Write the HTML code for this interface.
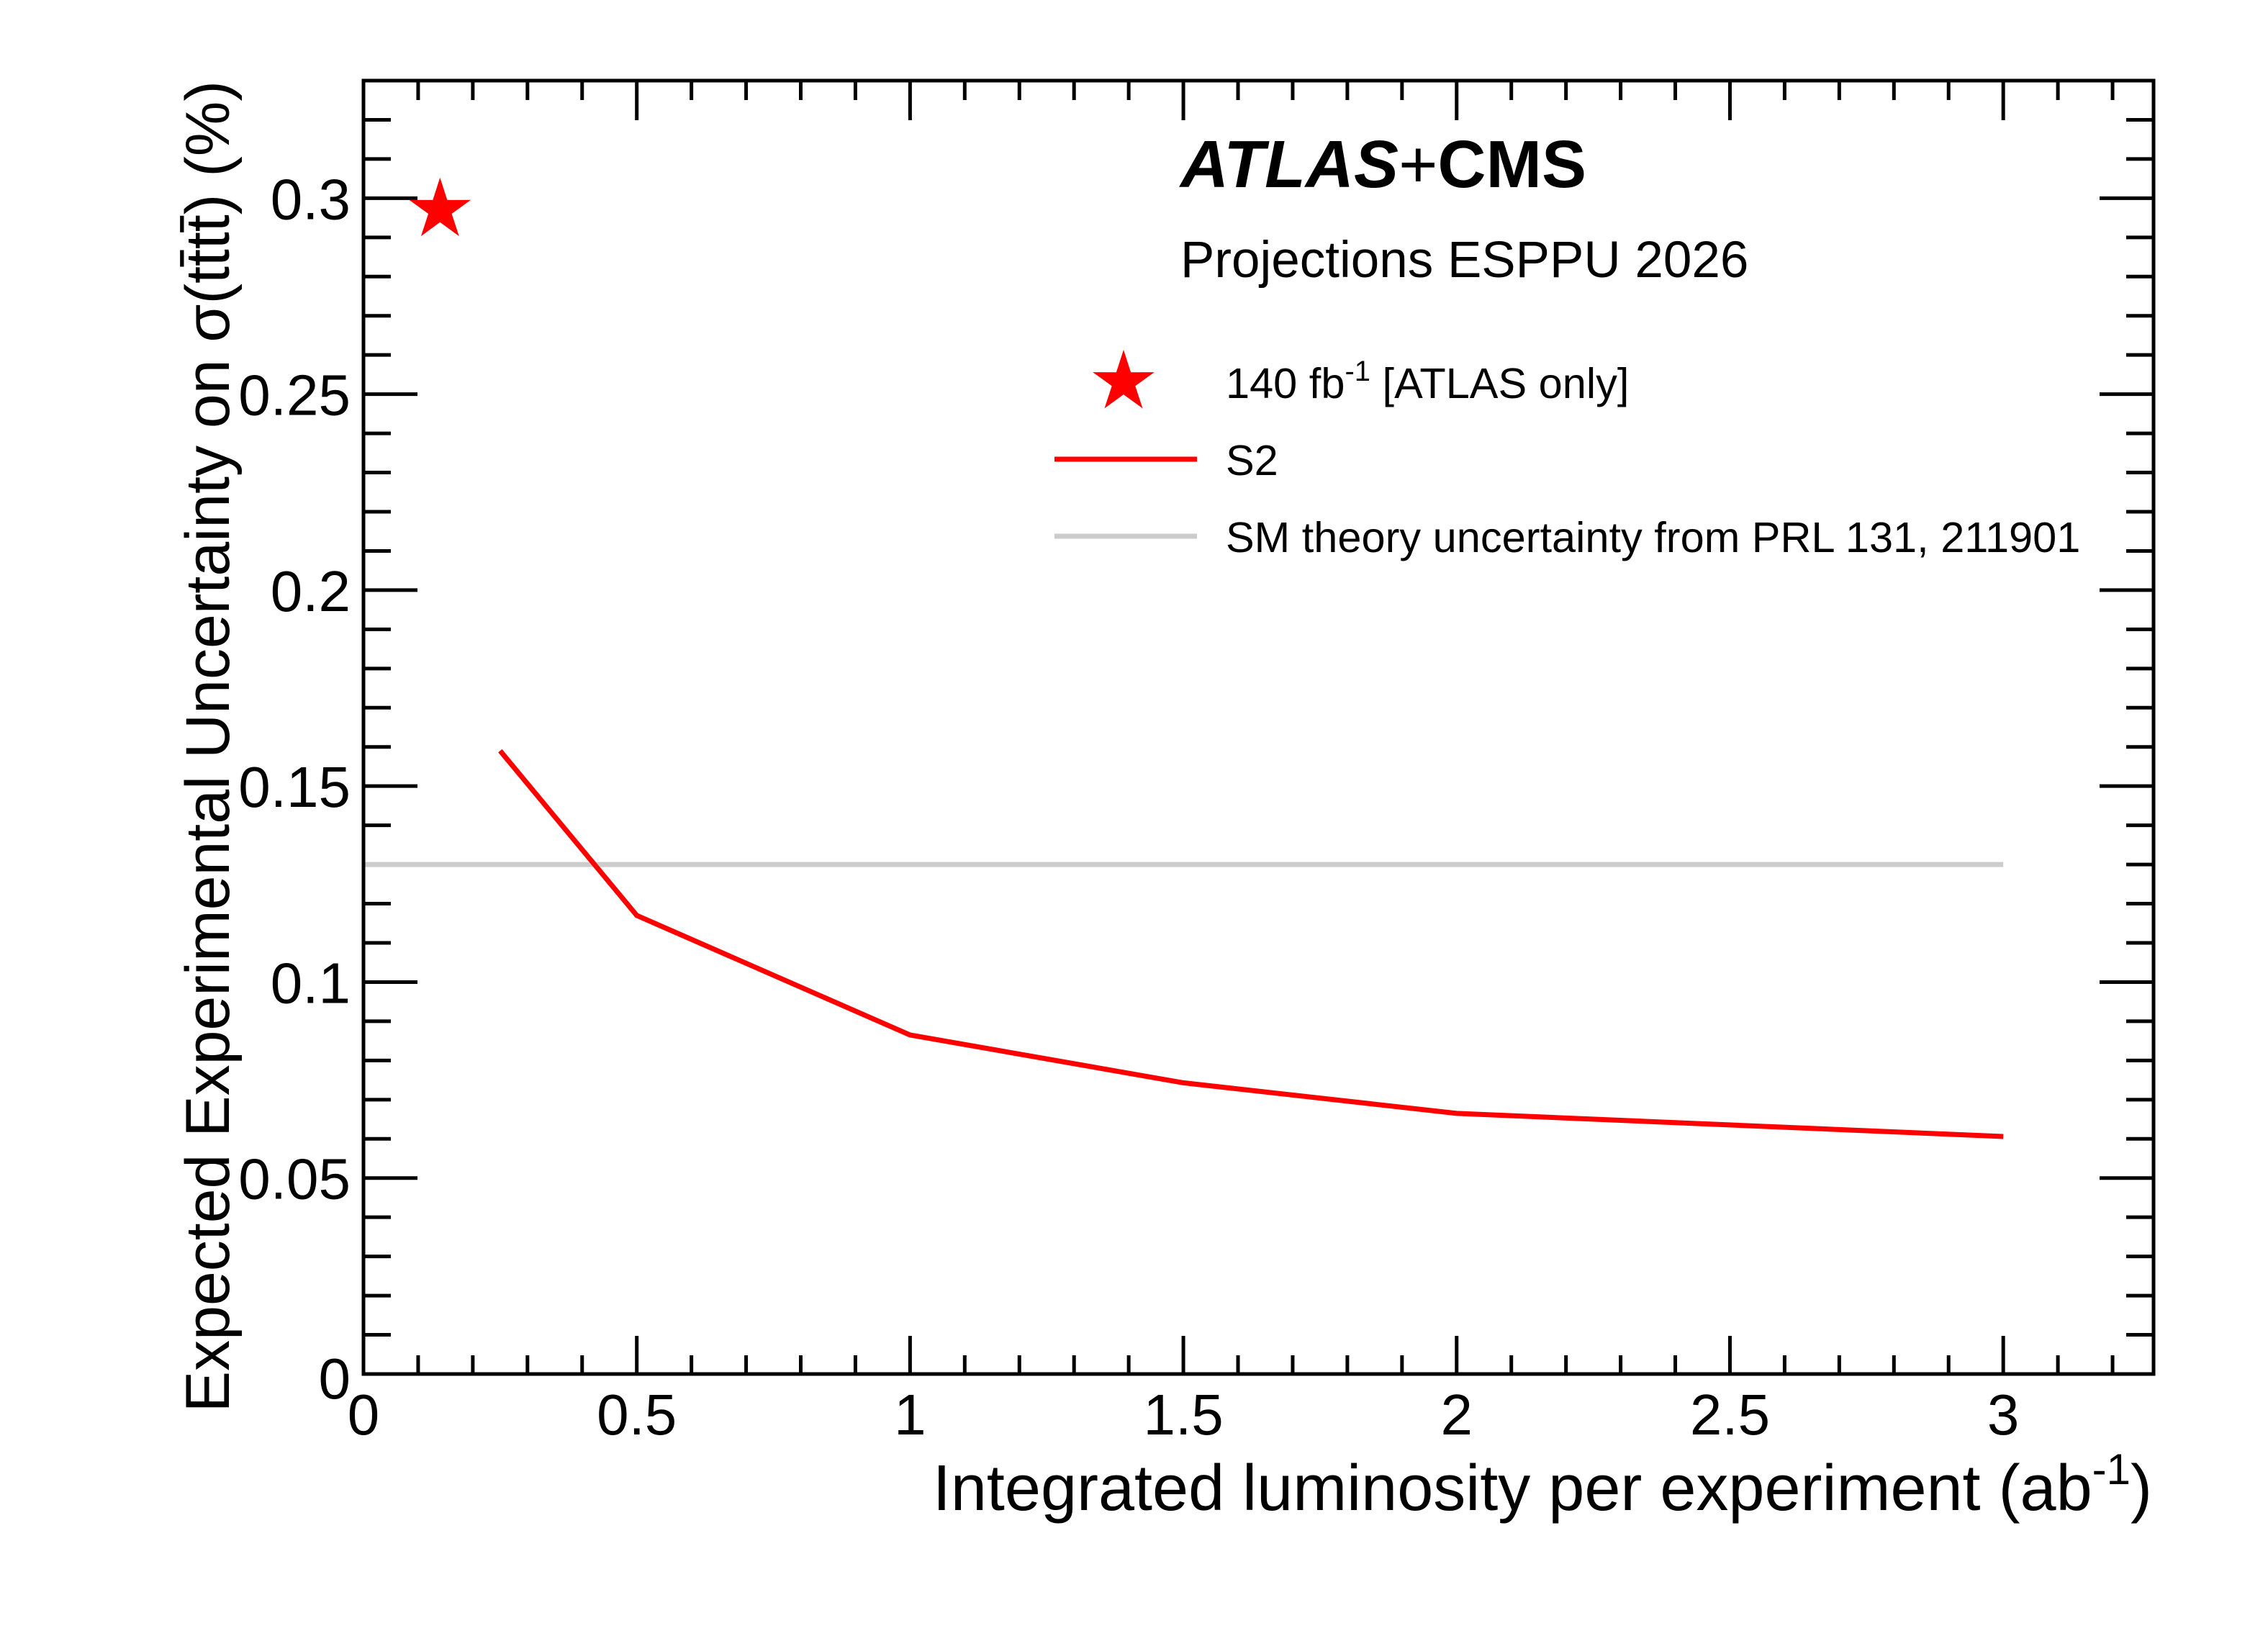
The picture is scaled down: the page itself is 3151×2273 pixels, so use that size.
<!DOCTYPE html>
<html><head><meta charset="utf-8"><style>
html,body{margin:0;padding:0;background:#fff;}
svg{display:block;font-family:"Liberation Sans",sans-serif;}
</style></head><body>
<svg id="chart" width="3151" height="2273" viewBox="0 0 3151 2273" xmlns="http://www.w3.org/2000/svg">
<rect width="3151" height="2273" fill="#fff"/>
<g id="ticks"></g>
<g id="ticklabels" font-size="80"></g>
<g id="marks"></g>
<rect x="505" y="112" width="2487" height="1797" fill="none" stroke="#000" stroke-width="5"/>
<text x="2990" y="2098" text-anchor="end" font-size="90">Integrated luminosity per experiment (ab<tspan dy="-36" font-size="60">-1</tspan><tspan dy="36">)</tspan></text>
<text transform="translate(318,112) rotate(-90)" text-anchor="end" font-size="86">Expected Experimental Uncertainty on σ(tt̄tt̄) (%)</text>
<text x="1640" y="260" font-size="93" font-weight="bold"><tspan font-style="italic">ATLAS</tspan><tspan font-weight="normal">+</tspan>CMS</text>
<text x="1640" y="385" font-size="71">Projections ESPPU 2026</text>
<g font-size="59.5">
<polygon id="legstar" fill="#ff0000"/>
<text x="1703" y="553">140 fb<tspan dy="-24" font-size="40">-1</tspan><tspan dy="24"> [ATLAS only]</tspan></text>
<line x1="1465" y1="638" x2="1663" y2="638" stroke="#ff0000" stroke-width="7"/>
<text x="1703" y="660">S2</text>
<line x1="1465" y1="745" x2="1663" y2="745" stroke="#cccccc" stroke-width="7"/>
<text x="1703" y="767">SM theory uncertainty from PRL 131, 211901</text>
</g>
</svg>
<script>
const xTicks=[0,0.5,1,1.5,2,2.5,3];
const xTickLabels=["0","0.5","1","1.5","2","2.5","3"];
const yTicks=[0,0.05,0.1,0.15,0.2,0.25,0.3];
const yTickLabels=["0","0.05","0.1","0.15","0.2","0.25","0.3"];
const s2Lumi=[0.25,0.5,1,1.5,2,3];
const s2Unc=[0.159,0.117,0.0865,0.0743,0.0665,0.0606];
const theoryUnc=[0.13];
const theoryRange=[0,3];
const atlasLumi=[0.14];
const atlasUnc=[0.297];

const L=505,R=2992,T=112,B=1909,XMAX=3.275,YMAX=0.330;
const sx=v=>L+v/XMAX*(R-L);
const sy=v=>B-v/YMAX*(B-T);
const NS="http://www.w3.org/2000/svg";
function mk(tag,attrs,parent){const e=document.createElementNS(NS,tag);for(const k in attrs)e.setAttribute(k,attrs[k]);parent.appendChild(e);return e;}
const tk=document.getElementById('ticks'),tl=document.getElementById('ticklabels'),mg=document.getElementById('marks');
function tick(x1,y1,x2,y2){const l=mk('line',{x1:x1,y1:y1,x2:x2,y2:y2,stroke:'#000','stroke-width':5},tk);

}
for(let i=0;i*0.1<=XMAX+1e-9;i++){const v=i*0.1,x=sx(v),maj=i%5===0;
 const lb=maj?53:26,lt=maj?55:27;
 tick(x,B,x,B-lb);tick(x,T,x,T+lt);}
for(let i=0;i*0.01<=YMAX+1e-9;i++){const v=i*0.01,y=sy(v),maj=i%5===0;
 const len=maj?75:38;
 tick(L,y,L+len,y);tick(R,y,R-len,y);}
xTicks.forEach((v,i)=>{const t=mk('text',{x:sx(v),y:1993,'text-anchor':'middle'},tl);t.textContent=xTickLabels[i];
 
 });
yTicks.forEach((v,i)=>{const t=mk('text',{x:487,y:sy(v)+29+(v===0?5:0),'text-anchor':'end'},tl);t.textContent=yTickLabels[i];
 
 });
const th=mk('line',{x1:sx(theoryRange[0]),x2:sx(theoryRange[1]),y1:sy(theoryUnc[0]),y2:sy(theoryUnc[0]),stroke:'#cccccc','stroke-width':7},mg);


const pl=mk('polyline',{points:s2Lumi.map((v,i)=>sx(v)+','+sy(s2Unc[i])).join(' '),fill:'none',stroke:'#ff0000','stroke-width':7,'stroke-linejoin':'miter'},mg);


function starPts(cx,cy,r){const p=[];for(let k=0;k<10;k++){const a=-Math.PI/2+k*Math.PI/5+Math.PI;const rr=k%2?r:r*0.38;p.push((cx+rr*Math.cos(a)).toFixed(1)+','+(cy+rr*Math.sin(a)).toFixed(1));}return p.join(' ');}
atlasLumi.forEach((v,i)=>{const s=mk('polygon',{points:starPts(sx(v),sy(atlasUnc[i]),45),fill:'#ff0000'},mg);
 
 });
document.getElementById('legstar').setAttribute('points',starPts(1561,531,45));
</script>
</body></html>
